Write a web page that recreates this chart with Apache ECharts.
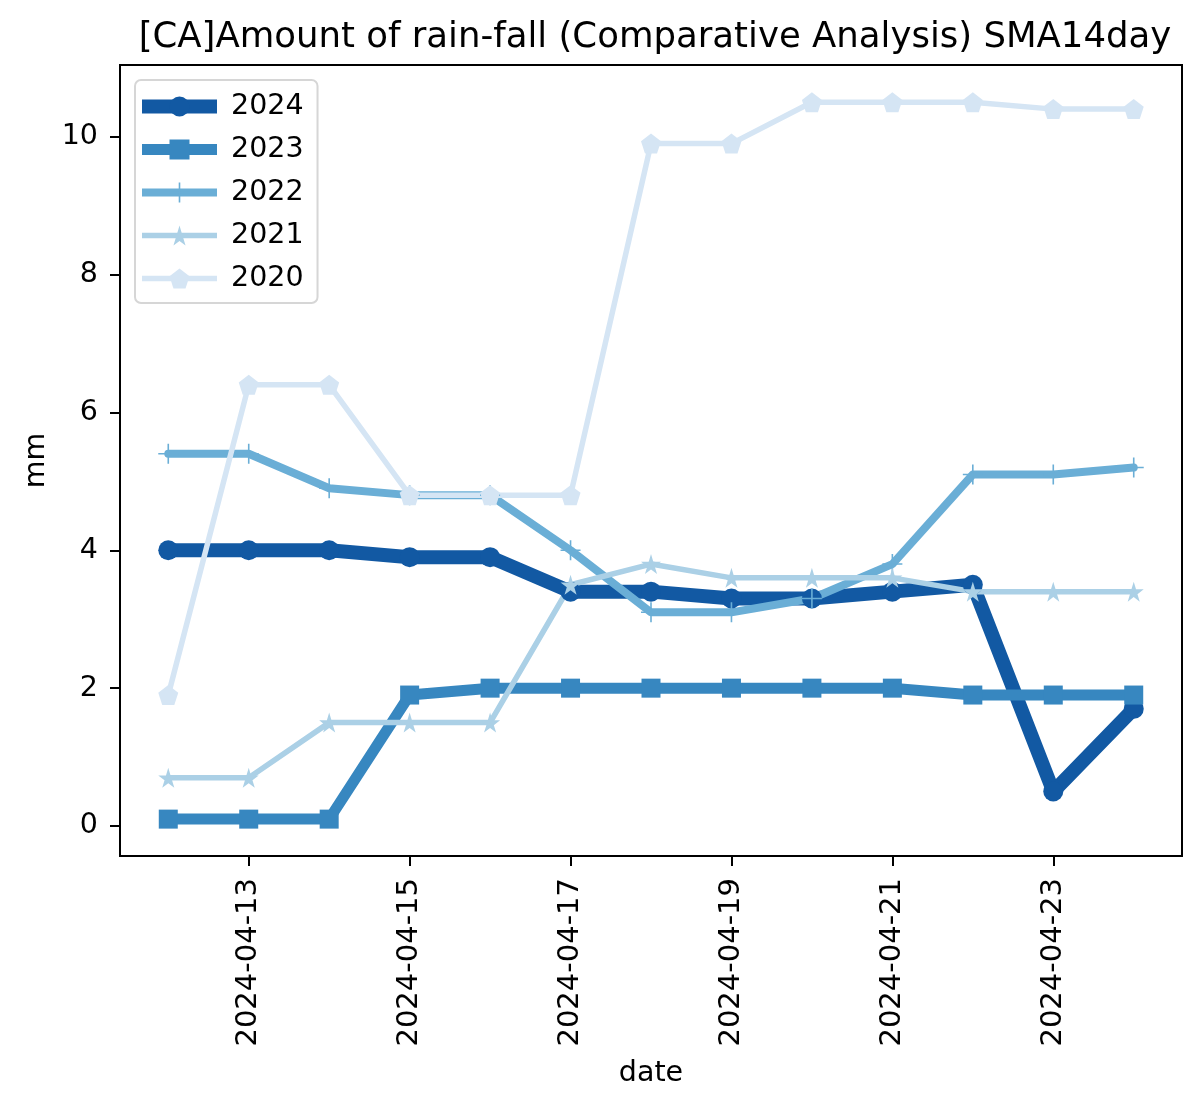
<!DOCTYPE html>
<html><head><meta charset="utf-8">
<script src="https://cdn.jsdelivr.net/npm/echarts@6/dist/echarts.min.js"></script>
<style>html,body{margin:0;padding:0;background:#fff}#c{width:1200px;height:1110px}</style>
</head><body><div id="c"></div>
<script>
const days = [12,13,14,15,16,17,18,19,20,21,22,23,24];
const xTickDays = [13,15,17,19,21,23];
const yTicks = [0,2,4,6,8,10];
const s2024 = [4.0,4.0,4.0,3.9,3.9,3.4,3.4,3.3,3.3,3.4,3.5,0.5,1.7];
const s2023 = [0.1,0.1,0.1,1.9,2.0,2.0,2.0,2.0,2.0,2.0,1.9,1.9,1.9];
const s2022 = [5.4,5.4,4.9,4.8,4.8,4.0,3.1,3.1,3.3,3.8,5.1,5.1,5.2];
const s2021 = [0.7,0.7,1.5,1.5,1.5,3.5,3.8,3.6,3.6,3.6,3.4,3.4,3.4];
const s2020 = [1.9,6.4,6.4,4.8,4.8,4.8,9.9,9.9,10.5,10.5,10.5,10.4,10.4];
const names = ['2024','2023','2022','2021','2020'];
const colors = ['#1259a3','#3787c0','#6aaed6','#abd0e6','#d5e5f4'];
const widths = [14,11,8,5.5,5.5];
const STAR = 'path://M50,0 L61,35 L98,35 L68,57 L79,91 L50,70 L21,91 L32,57 L2,35 L39,35 Z';
const PENT = 'path://M50,0 L98,35 L79,91 L21,91 L2,35 Z';
const PLUS = 'path://M46,0 H54 V46 H100 V54 H54 V100 H46 V54 H0 V46 H46 Z';
const symbols = ['circle','rect',PLUS,STAR,PENT];
const symSizes = [20,19,[20,20],20,20];
const allData = [s2024,s2023,s2022,s2021,s2020];
const FONT = 'DejaVu Sans';

const series = names.map((n,i)=>({
  name:n, type:'line',
  data: days.map((d,j)=>[d, allData[i][j]]),
  symbol: symbols[i], symbolSize: symSizes[i], showAllSymbol:true,
  lineStyle:{color:colors[i], width:widths[i], join:'round', cap:'round'},
  itemStyle:{color:colors[i], borderWidth:0},
  animation:false
}));

const chart = echarts.init(document.getElementById('c'), null, {renderer:'canvas'});
chart.setOption({
  animation:false,
  backgroundColor:'#fff',
  title:{text:'[CA]Amount of rain-fall (Comparative Analysis) SMA14day', left:650, top:15, textAlign:'center',
    textStyle:{fontFamily:FONT, fontSize:35.5, fontWeight:'normal', color:'#000'}},
  grid:{left:120, right:18, top:65, bottom:254, show:true, borderColor:'#000', borderWidth:2, backgroundColor:'transparent'},
  legend:{orient:'vertical', left:135, top:80,
    data:names.map((n,i)=>({name:n, lineStyle:{width:widths[i], color:colors[i], cap:'butt'}, itemStyle:{color:colors[i]}})),
    itemWidth:75, itemHeight:25, itemGap:14,
    padding:[12,14,10,0], borderColor:'#d6d6d6', borderWidth:2, borderRadius:6, backgroundColor:'#fff',
    textStyle:{fontFamily:FONT, fontSize:28.5, color:'#000', padding:[0,0,0,9]}},
  xAxis:{type:'value', min:11.4, max:24.6, name:'date', nameLocation:'middle', nameGap:203,
    nameTextStyle:{fontFamily:FONT, fontSize:28.5, color:'#000'},
    axisLine:{show:true, onZero:false, lineStyle:{color:'#000', width:2}},
    axisTick:{show:true, inside:false, length:10, lineStyle:{color:'#000', width:2}, customValues:xTickDays},
    axisLabel:{rotate:90, margin:22, fontFamily:FONT, fontSize:29, color:'#000', customValues:xTickDays,
      formatter:v=>'2024-04-'+String(v).padStart(2,'0')},
    splitLine:{show:false}},
  yAxis:{type:'value', min:-0.435, max:11.04, name:'mm', nameLocation:'middle', nameGap:69,
    nameTextStyle:{fontFamily:FONT, fontSize:28.5, color:'#000'},
    axisLine:{show:true, onZero:false, lineStyle:{color:'#000', width:2}},
    axisTick:{show:true, inside:false, length:10, lineStyle:{color:'#000', width:2}, customValues:yTicks},
    axisLabel:{margin:22, fontFamily:FONT, fontSize:28.5, color:'#000', customValues:yTicks},
    splitLine:{show:false}},
  series: series
});
</script></body></html>
